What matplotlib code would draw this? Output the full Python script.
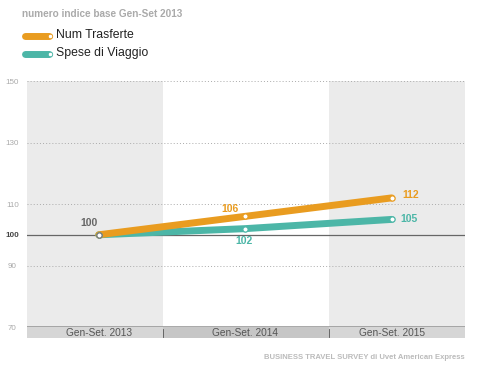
import matplotlib
matplotlib.use("Agg")
import matplotlib.pyplot as plt
from matplotlib.patches import Rectangle
import matplotlib.transforms as mtransforms

# dati (numero indice base Gen-Set 2013)
periodi = ['Gen-Set. 2013', 'Gen-Set. 2014', 'Gen-Set. 2015']
num_trasferte = [100, 106, 112]
spese_viaggio = [100, 102, 105]
yticks = [70, 90, 100, 110, 130, 150]

ORANGE = '#E99C20'
TEAL = '#4CB6A7'
BAND = '#EBEBEB'

plt.rcParams['font.family'] = ['Liberation Sans', 'DejaVu Sans']

fig = plt.figure(figsize=(5, 3.65), dpi=100)
ax = fig.add_axes([0.054, 0.104, 0.876, 0.674])
x = list(range(len(periodi)))
edges = [-0.49, 0.44, 1.57, 2.5]
ax.set_xlim(edges[0], edges[-1])
ax.set_ylim(70, 150)

# bande grigie alternate
for i in (0, 2):
    ax.axvspan(edges[i], edges[i + 1], color=BAND, lw=0, zorder=0)

# griglia
for v in yticks:
    if v == 100:
        ax.axhline(v, color='#666666', lw=0.9, zorder=1)
    elif v == 70:
        ax.axhline(v, color='#999999', lw=1.2, zorder=1)
    else:
        ax.axhline(v, color='#aaaaaa', lw=0.7, ls=(0, (1, 2.2)), zorder=1)

for s in ax.spines.values():
    s.set_visible(False)
ax.set_xticks([])
ax.set_yticks(yticks)
ax.tick_params(axis='y', length=0, pad=10.5)
for lab in ax.get_yticklabels():
    lab.set_fontsize(5.8)
    lab.set_horizontalalignment('center')
    if lab.get_text() == '100':
        lab.set_color('#444444')
        lab.set_fontweight('bold')
    else:
        lab.set_color('#aaaaaa')

# barra etichette categorie
trans = mtransforms.blended_transform_factory(ax.transData, ax.transAxes)
bar_cols = ['#D6D6D6', '#C6C6C6', '#D6D6D6']
for i in range(3):
    ax.add_patch(Rectangle((edges[i], -0.046), edges[i + 1] - edges[i], 0.046,
                           transform=trans, color=bar_cols[i], lw=0, clip_on=False))
    ax.text(x[i], -0.023, periodi[i], transform=trans, ha='center', va='center',
            fontsize=7.3, color='#555555')
for e in edges[1:3]:
    ax.plot([e, e], [-0.04, -0.008], transform=trans, color='#555555', lw=0.6, clip_on=False)

# linee
ax.plot(x, num_trasferte, color=ORANGE, lw=5, solid_capstyle='round', zorder=3)
ax.plot(x, spese_viaggio, color=TEAL, lw=5, solid_capstyle='round', zorder=2)
ax.plot(x, num_trasferte, 'o', ms=3.8, mfc='white', mec=ORANGE, mew=0.9, zorder=4)
ax.plot(x, spese_viaggio, 'o', ms=3.8, mfc='white', mec=TEAL, mew=0.9, zorder=4)
ax.plot(x[0], num_trasferte[0], 'o', ms=3.8, mfc='white', mec='#777777', mew=0.9, zorder=5)

# etichette valori
ax.annotate(str(num_trasferte[0]), (x[0], num_trasferte[0]), xytext=(-7, 5),
            textcoords='offset points', ha='center', va='bottom', fontsize=7.5,
            fontweight='bold', color='#666666')
ax.annotate(str(num_trasferte[1]), (x[1], num_trasferte[1]), xytext=(-11, 2),
            textcoords='offset points', ha='center', va='bottom', fontsize=7.5,
            fontweight='bold', color=ORANGE)
ax.annotate(str(spese_viaggio[1]), (x[1], spese_viaggio[1]), xytext=(-1, -5),
            textcoords='offset points', ha='center', va='top', fontsize=7.5,
            fontweight='bold', color=TEAL)
ax.annotate(str(num_trasferte[2]), (x[2], num_trasferte[2]), xytext=(8, 2),
            textcoords='offset points', ha='left', va='center', fontsize=7.5,
            fontweight='bold', color=ORANGE)
ax.annotate(str(spese_viaggio[2]), (x[2], spese_viaggio[2]), xytext=(6, 0),
            textcoords='offset points', ha='left', va='center', fontsize=7.5,
            fontweight='bold', color=TEAL)

# titolo e legenda
fig.text(0.044, 0.962, 'numero indice base Gen-Set 2013', fontsize=7.2,
         fontweight='bold', color='#aaaaaa', va='center')
for yy, col, lab in [(0.902, ORANGE, 'Num Trasferte'), (0.853, TEAL, 'Spese di Viaggio')]:
    fig.add_artist(plt.Line2D([0.05, 0.098], [yy, yy], color=col, lw=5,
                              solid_capstyle='round'))
    fig.add_artist(plt.Line2D([0.099], [yy], marker='o', ms=3.2, mfc='white',
                              mec=col, mew=0.6))
    fig.text(0.112, yy + 0.003, lab, fontsize=8.8, color='#222222', va='center')

fig.text(0.93, 0.02, 'BUSINESS TRAVEL SURVEY di Uvet American Express', fontsize=5.5,
         fontweight='bold', color='#bbbbbb', ha='right', va='center')

fig.savefig('out.png', dpi=100, facecolor='white')
